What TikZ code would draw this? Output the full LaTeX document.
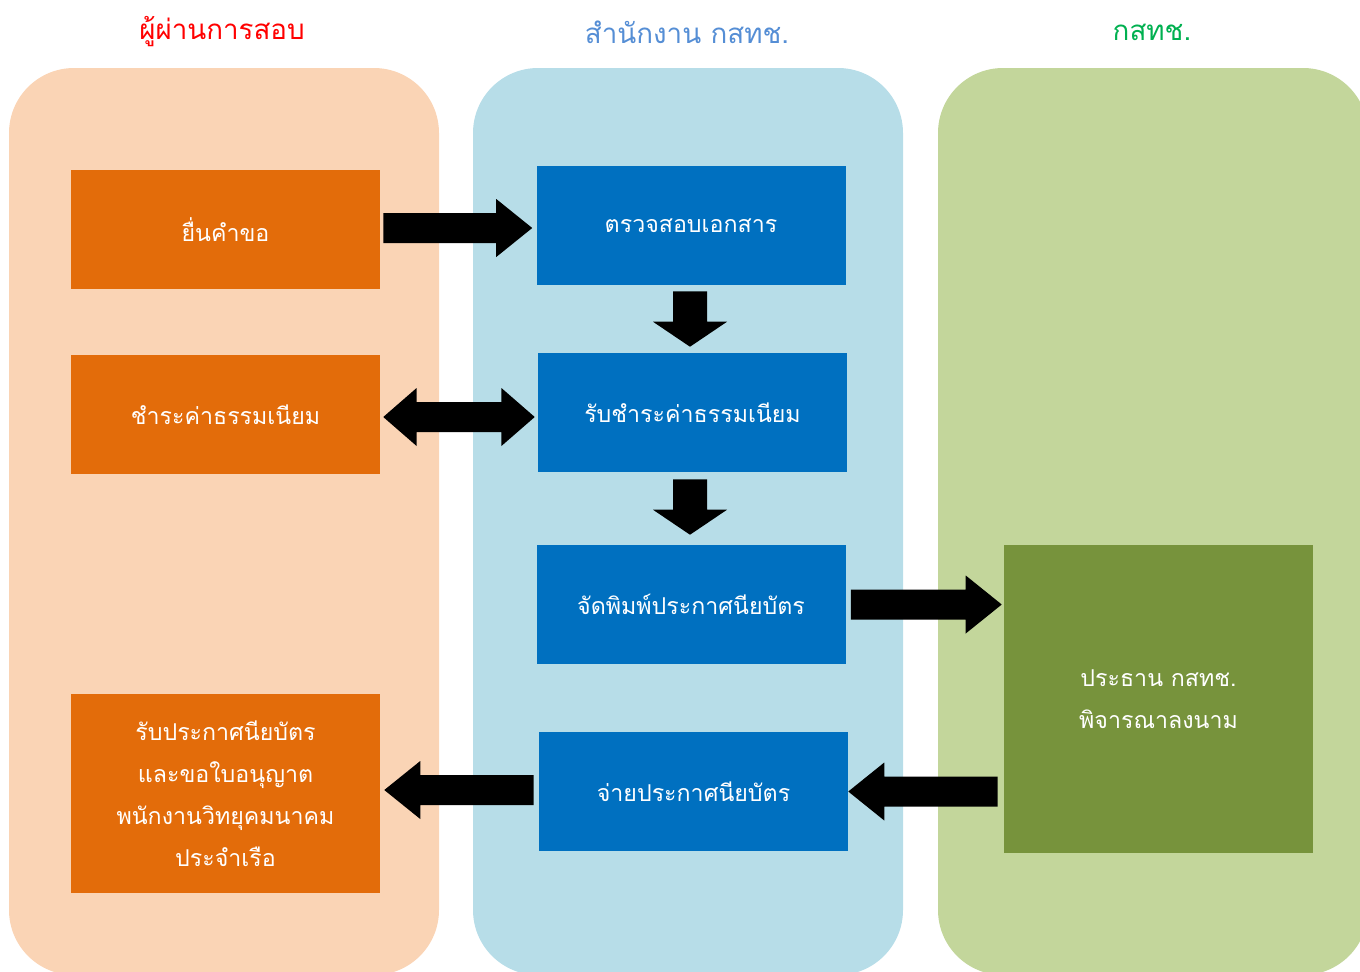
\documentclass[tikz,border=0pt]{standalone}
\usepackage{fontspec}
\newfontfamily\thai[Script=Thai]{Loma}
\usetikzlibrary{calc}
\definecolor{panelO}{HTML}{FAD4B5}
\definecolor{panelB}{HTML}{B7DDE8}
\definecolor{panelG}{HTML}{C3D69B}
\definecolor{boxO}{HTML}{E36C0A}
\definecolor{boxB}{HTML}{0070C0}
\definecolor{boxG}{HTML}{77933C}
\definecolor{titR}{HTML}{FF0000}
\definecolor{titB}{HTML}{558ED5}
\definecolor{titG}{HTML}{00B050}
\tikzset{
  panel/.style={rounded corners=48.75pt},
  box/.style={minimum width=231.75pt, minimum height=89.25pt, inner sep=0pt, text=white, align=center,
    font=\thai\fontsize{17.4}{31.5}\selectfont},
  title/.style={font=\thai\fontsize{20.8}{24}\selectfont, anchor=center},
}
\newcommand\rightblk[2]{\fill let \p1=(#1), \p2=(#2) in
  (\x1,\y1+11.25pt) -- (\x2-27pt,\y1+11.25pt) -- (\x2-27pt,\y1+21.75pt) -- (\x2,\y1)
  -- (\x2-27pt,\y1-21.75pt) -- (\x2-27pt,\y1-11.25pt) -- (\x1,\y1-11.25pt) -- cycle;}
\newcommand\leftblk[2]{\fill let \p1=(#1), \p2=(#2) in
  (\x1,\y1+11.25pt) -- (\x2+27pt,\y1+11.25pt) -- (\x2+27pt,\y1+21.75pt) -- (\x2,\y1)
  -- (\x2+27pt,\y1-21.75pt) -- (\x2+27pt,\y1-11.25pt) -- (\x1,\y1-11.25pt) -- cycle;}
\newcommand\bothblk[2]{\fill let \p1=(#1), \p2=(#2) in
  (\x1,\y1) -- (\x1+25pt,\y1+21.75pt) -- (\x1+25pt,\y1+11.25pt) -- (\x2-25pt,\y1+11.25pt)
  -- (\x2-25pt,\y1+21.75pt) -- (\x2,\y1) -- (\x2-25pt,\y1-21.75pt) -- (\x2-25pt,\y1-11.25pt)
  -- (\x1+25pt,\y1-11.25pt) -- (\x1+25pt,\y1-21.75pt) -- cycle;}
\newcommand\downblk[2]{\fill let \p1=(#1), \p2=(#2) in
  (\x1-12.75pt,\y1) -- (\x1-12.75pt,\y2+18.75pt) -- (\x1-27.75pt,\y2+18.75pt) -- (\x1,\y2)
  -- (\x1+27.75pt,\y2+18.75pt) -- (\x1+12.75pt,\y2+18.75pt) -- (\x1+12.75pt,\y1) -- cycle;}
\begin{document}
\begin{tikzpicture}[x=0.75pt,y=-0.75pt]
\useasboundingbox (0,0) rectangle (1360,971);
\clip (0,0) rectangle (1360,971);
% panels
\fill[panelO, panel] (9,68) rectangle (439,975);
\fill[panelB, panel] (473,68) rectangle (903,975);
\fill[panelG, panel] (938,68) rectangle (1368,975);
% titles
\node[title, text=titR] (t1) at (222,32) {ผู้ผ่านการสอบ};
\node[title, text=titB] (t2) at (687,32) {สำนักงาน กสทช.};
\node[title, text=titG] (t3) at (1152,32) {กสทช.};
% boxes
\node[box, fill=boxO] (A) at (225.5,229.5) {ยื่นคำขอ};
\node[box, fill=boxO] (B) at (225.5,414.5) {ชำระค่าธรรมเนียม};
\node[box, fill=boxO, minimum height=149.25pt] (C) at (225.5,793.5) {รับประกาศนียบัตร\\และขอใบอนุญาต\\พนักงานวิทยุคมนาคม\\ประจำเรือ};
\node[box, fill=boxB] (D) at (691,225.5) {ตรวจสอบเอกสาร};
\node[box, fill=boxB] (E) at (692.5,412.5) {รับชำระค่าธรรมเนียม};
\node[box, fill=boxB] (F) at (691,604.5) {จัดพิมพ์ประกาศนียบัตร};
\node[box, fill=boxB] (G) at (693.5,791.5) {จ่ายประกาศนียบัตร};
\node[box, fill=boxG, minimum height=231pt] (H) at (1158.5,699) {ประธาน กสทช.\\พิจารณาลงนาม};
% arrows
\rightblk{$(A.east)+(3,-1.5)$}{$(D.west |- A.east)+(-4,-1.5)$}
\downblk{$(D.south)+(-1,6)$}{$(E.north)+(-2.5,-6)$}
\bothblk{$(B.east)+(3,2.5)$}{$(E.west |- B.east)+(-3,2.5)$}
\downblk{$(E.south)+(-2.5,7)$}{$(F.north)+(-1,-10)$}
\rightblk{$(F.east)+(5,0)$}{$(H.west |- F.east)+(-2,0)$}
\leftblk{$(H.west |- G.west)+(-6,0)$}{$(G.east)+(0,0)$}
\leftblk{$(G.west)+(-5,-1.5)$}{$(C.east |- G.west)+(4,-1.5)$}
\end{tikzpicture}
\end{document}
